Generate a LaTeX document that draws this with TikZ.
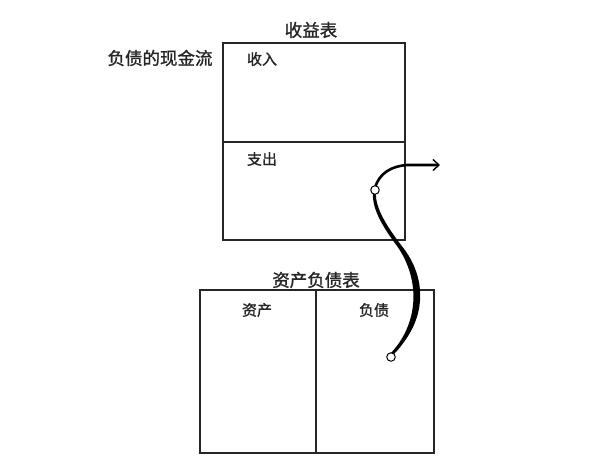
\documentclass[tikz,border=0pt]{standalone}
\usepackage{fontspec}
\newfontfamily\cjk[FakeBold=1.3]{Noto Sans CJK SC}
\usetikzlibrary{arrows.meta}
\begin{document}
\begin{tikzpicture}[x=1pt,y=-1pt,
  boxline/.style={draw=black!85,line width=1.7pt},
  title/.style={font=\cjk\fontsize{17.5}{20}\selectfont,inner sep=0pt,text=black!85},
  lbl/.style={font=\cjk\fontsize{15}{18}\selectfont,inner sep=0pt,text=black!85},
  ring/.style={circle,draw=black,fill=white,line width=1pt,minimum size=8.5pt,inner sep=0pt}]
\useasboundingbox (0,0) rectangle (592,471);
% income statement
\coordinate (isNW) at (223,43);
\coordinate (isSE) at (405,240);
\draw[boxline] (isNW) rectangle (isSE);
\coordinate (isL) at (223,142);
\coordinate (isR) at (405,142);
\draw[boxline] (isL) -- (isR);
% balance sheet
\coordinate (bsNW) at (200,290);
\coordinate (bsSE) at (434,453);
\draw[boxline] (bsNW) rectangle (bsSE);
\coordinate (bsT) at (316,290);
\coordinate (bsB) at (316,453);
\draw[boxline] (bsT) -- (bsB);
% texts
\node[title] (t1) at (311,30) {收益表};
\node[title] (t2) at (160,58) {负债的现金流};
\node[lbl] (l1) at (262,59) {收入};
\node[lbl] (l2) at (262,159) {支出};
\node[title] (t3) at (316,280) {资产负债表};
\node[lbl] (l3) at (257,310) {资产};
\node[lbl] (l4) at (374,310) {负债};
% brush curve
\fill[black] (390,356) .. controls (426,326) and (430,280) .. (401,245)
   .. controls (386,225) and (373,205) .. (376.5,189)
   -- (373.5,189) .. controls (370,206) and (382,226) .. (397,246)
   .. controls (421,280) and (419,325) .. (389,355) -- cycle;
\draw[black,line width=1.4pt] (390,357) .. controls (424,325) and (428,280) .. (399,245)
   .. controls (384,225) and (371,205) .. (375,190);
\coordinate (tip) at (440,165);
\draw[black,line width=2.6pt,-{Straight Barb[length=6pt,width=11pt,line width=1.4pt]}]
   (375,188) .. controls (379,173) and (392,166) .. (407,165) -- (tip);
\node[ring] (c1) at (375,190) {};
\node[ring] (c2) at (391,357) {};
\end{tikzpicture}
\end{document}
